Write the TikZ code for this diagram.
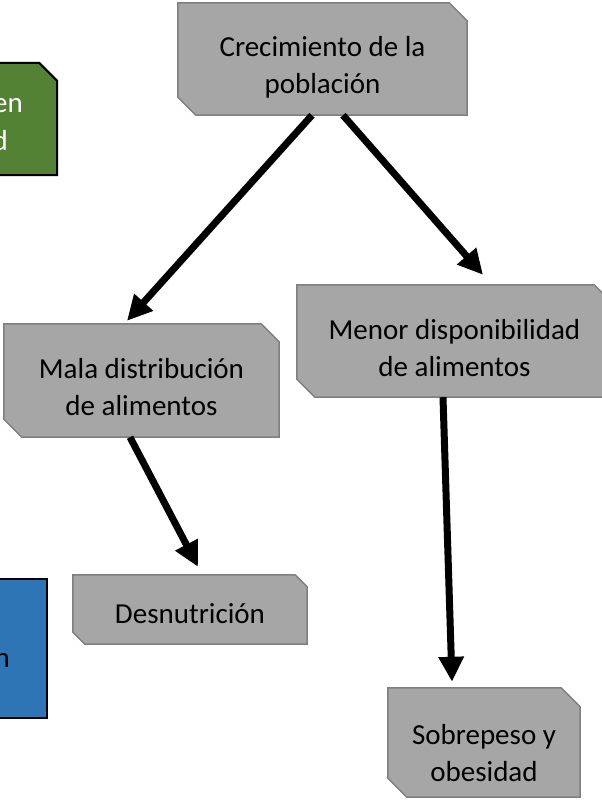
\documentclass[tikz,border=0pt]{standalone}
\usepackage{fontspec}
\setmainfont{Carlito}
\usetikzlibrary{arrows.meta,backgrounds}
\definecolor{boxfill}{HTML}{A6A6A6}
\definecolor{boxline}{HTML}{7F7F7F}
\definecolor{greenfill}{HTML}{548235}
\definecolor{bluefill}{HTML}{2E75B6}
\tikzset{
  txt/.style={draw=none, inner sep=0pt, align=center, font=\fontsize{29}{37}\selectfont},
  gshape/.style={fill=boxfill, draw=boxline, line width=1.5pt, line join=miter},
  arr/.style={line width=7pt, -{Triangle[length=25pt,width=24pt]}},
}
\begin{document}
\begin{tikzpicture}[x=1pt,y=-1pt]
\useasboundingbox (0,0) rectangle (602,801);
% main boxes
\node[txt, minimum width=289pt, minimum height=112pt] (crec) at (322.5,59) {};
\node[txt, minimum width=275pt, minimum height=113pt] (mala) at (141.5,380.5) {};
\node[txt, minimum width=315pt, minimum height=112pt] (menor) at (454.5,341) {};
\node[txt, minimum width=234pt, minimum height=69pt] (desn) at (190,609.5) {};
\node[txt, minimum width=192pt, minimum height=109pt] (sobre) at (484,742.5) {};
% texts
\node[txt] (crecT) at ([yshift=-8.5pt]crec.center) {Crecimiento de la\\población};
\node[txt] (malaT) at ([yshift=-6.5pt]mala.center) {Mala distribución\\de alimentos};
\node[txt] (menorT) at ([yshift=-7.5pt]menor.center) {Menor disponibilidad\\de alimentos};
\node[txt] (desnT) at ([yshift=-4pt]desn.center) {Desnutrición};
\node[txt] (sobreT) at ([yshift=-11pt]sobre.center) {Sobrepeso y\\obesidad};
% partial side boxes
\node[txt, minimum width=160pt, minimum height=112pt] (green) at (-23,119) {};
\node[txt, minimum width=160pt, minimum height=139pt] (blue) at (-33,648.5) {};
\node[txt, anchor=base east, text=white] (greenA) at (23,112) {en};
\node[txt, anchor=base east, text=white] (greenB) at (8,150) {d};
\node[txt, anchor=base east] (blueA) at (10,667) {n};
% connectors
\draw[arr] ([xshift=-10.5pt]crec.south) -- ([xshift=-14.5pt,yshift=3pt]mala.north);
\draw[arr] ([xshift=20.5pt]crec.south) -- ([xshift=28.5pt,yshift=10pt]menor.north);
\draw[arr] ([xshift=-11.5pt]mala.south) -- ([xshift=8pt,yshift=8pt]desn.north);
\draw[arr] ([xshift=-11.5pt]menor.south) -- ([xshift=-32pt,yshift=6pt]sobre.north);
% shapes behind
\begin{scope}[on background layer]
\fill[white] (0,0) rectangle (602,801);
\foreach \n/\c in {crec/18, mala/18, menor/18, desn/12, sobre/19} {
  \draw[gshape] (\n.north west) -- ([xshift=-\c pt]\n.north east) -- ([yshift=-\c pt]\n.north east)
    -- (\n.south east) -- ([xshift=\c pt]\n.south west) -- ([yshift=\c pt]\n.south west) -- cycle;
}
\draw[fill=greenfill, draw=black, line width=2pt] (green.north west) -- ([xshift=-18pt]green.north east)
  -- ([yshift=-18pt]green.north east) -- (green.south east) -- (green.south west) -- cycle;
\draw[fill=bluefill, draw=black, line width=2pt] (blue.north west) rectangle (blue.south east);
\end{scope}
\end{tikzpicture}
\end{document}
